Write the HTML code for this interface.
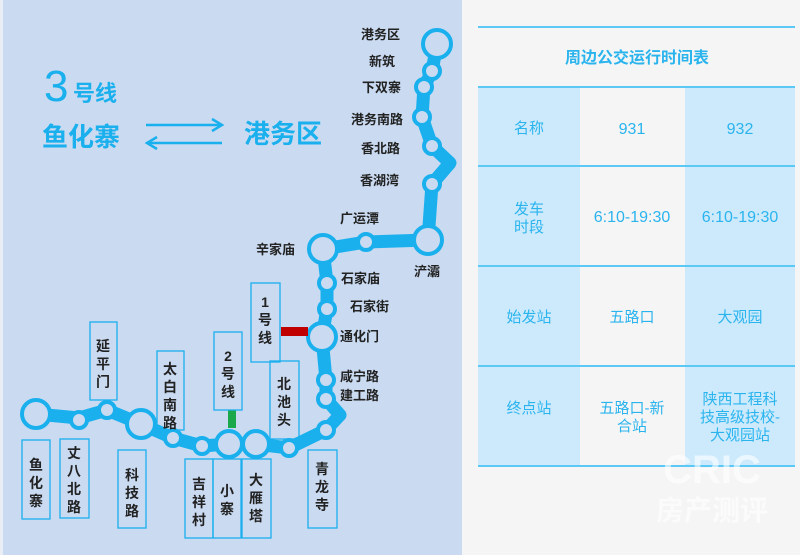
<!DOCTYPE html>
<html><head><meta charset="utf-8"><style>
body{margin:0;width:800px;height:555px;background:#f5f5f5;overflow:hidden;font-family:"Liberation Sans","Noto Sans CJK SC",sans-serif}
.l{position:absolute;left:0;top:0}
</style></head><body>
<svg class="l" width="800" height="555" xmlns="http://www.w3.org/2000/svg" font-family="Liberation Sans, Noto Sans CJK SC, sans-serif">
<rect x="3" y="0" width="459" height="555" fill="#c9daf1"/>
<rect x="0" y="0" width="3" height="555" fill="#e9eef5"/>
<text x="44" y="101" font-size="44" fill="#1ab0ee">3</text>
<text x="73" y="101" font-size="22" font-weight="bold" fill="#1ab0ee">号线</text>
<text x="42" y="146" font-size="26" font-weight="bold" fill="#1ab0ee">鱼化寨</text>
<text x="244" y="143" font-size="26" font-weight="bold" fill="#1ab0ee">港务区</text>
<g stroke="#1ab0ee" stroke-width="2.5" fill="none">
<line x1="146" y1="125" x2="221" y2="125"/><polyline points="212,119 222,125 212,131"/>
<line x1="147" y1="143" x2="222" y2="143"/><polyline points="157,137 147,143 157,149"/>
</g>
<polyline fill="none" stroke="#1ab0ee" stroke-width="13" stroke-linejoin="round" stroke-linecap="round"
points="36,414 79,418 107,410 141,424 173,438 202,446 229,444 256,444 289,448 326,430 340,415 326,399 326,380 322,337 327,309 327,283 323,249 366,242 428,240 432,184 450,163 432,146 422,117 424,87 432,71 437,44"/>
<g fill="#c9daf1" stroke="#1ab0ee" stroke-width="4">
<circle cx="36" cy="414" r="14"/><circle cx="79" cy="420" r="8"/><circle cx="107" cy="410" r="8"/>
<circle cx="141" cy="424" r="14"/><circle cx="173" cy="438" r="8"/><circle cx="202" cy="446" r="8"/>
<circle cx="229" cy="444" r="13"/><circle cx="256" cy="444" r="13"/><circle cx="289" cy="448" r="8"/>
<circle cx="326" cy="430" r="8"/><circle cx="326" cy="399" r="8"/><circle cx="326" cy="380" r="8"/>
<circle cx="322" cy="337" r="14"/><circle cx="327" cy="309" r="8"/><circle cx="327" cy="283" r="8"/>
<circle cx="323" cy="249" r="14"/><circle cx="366" cy="242" r="8"/><circle cx="428" cy="240" r="14"/>
<circle cx="432" cy="184" r="8"/><circle cx="432" cy="146" r="8"/><circle cx="422" cy="117" r="8"/>
<circle cx="424" cy="87" r="8"/><circle cx="432" cy="71" r="8"/><circle cx="437" cy="44" r="14"/>
</g>
<rect x="228" y="410" width="8" height="18" fill="#1aa84a"/>
<rect x="281" y="327" width="27" height="9" fill="#c00000"/>
<g font-size="13" font-weight="bold" fill="#222">
<text x="361" y="39">港务区</text><text x="369" y="66">新筑</text><text x="362" y="92">下双寨</text>
<text x="351" y="124">港务南路</text><text x="361" y="153">香北路</text><text x="360" y="185">香湖湾</text>
<text x="340" y="223">广运潭</text><text x="256" y="254">辛家庙</text><text x="414" y="276">浐灞</text>
<text x="341" y="283">石家庙</text><text x="350" y="311">石家街</text><text x="340" y="341">通化门</text>
<text x="340" y="381">咸宁路</text><text x="340" y="400">建工路</text>
</g>
<g fill="none" stroke="#1ab0ee" stroke-width="1.3">
<rect x="90" y="322" width="27" height="78"/><rect x="157" y="351" width="27" height="79"/>
<rect x="214" y="332" width="28" height="78"/><rect x="251" y="283" width="29" height="79"/>
<rect x="270" y="361" width="29" height="78"/><rect x="22" y="440" width="28" height="79"/>
<rect x="60" y="439" width="29" height="79"/><rect x="118" y="450" width="28" height="78"/>
<rect x="185" y="459" width="28" height="79"/><rect x="213" y="459" width="28" height="79"/>
<rect x="242" y="459" width="29" height="79"/><rect x="308" y="450" width="29" height="78"/>
</g>
<g font-size="14" font-weight="bold" fill="#222" text-anchor="middle">
<text x="103" y="351">延</text><text x="103" y="369">平</text><text x="103" y="387">门</text>
<text x="170" y="374">太</text><text x="170" y="392">白</text><text x="170" y="410">南</text><text x="170" y="428">路</text>
<text x="228" y="361">2</text><text x="228" y="379">号</text><text x="228" y="397">线</text>
<text x="265" y="307">1</text><text x="265" y="325">号</text><text x="265" y="343">线</text>
<text x="284" y="389">北</text><text x="284" y="407">池</text><text x="284" y="425">头</text>
<text x="36" y="470">鱼</text><text x="36" y="488">化</text><text x="36" y="506">寨</text>
<text x="74" y="458">丈</text><text x="74" y="476">八</text><text x="74" y="494">北</text><text x="74" y="512">路</text>
<text x="132" y="480">科</text><text x="132" y="498">技</text><text x="132" y="516">路</text>
<text x="199" y="489">吉</text><text x="199" y="507">祥</text><text x="199" y="525">村</text>
<text x="227" y="496">小</text><text x="227" y="514">寨</text>
<text x="256" y="485">大</text><text x="256" y="503">雁</text><text x="256" y="521">塔</text>
<text x="322" y="474">青</text><text x="322" y="492">龙</text><text x="322" y="510">寺</text>
</g>
<rect x="478" y="87" width="102" height="379" fill="#cdeafc"/>
<rect x="685" y="87" width="110" height="379" fill="#cdeafc"/>
<g fill="#5bc8f5">
<rect x="478" y="26" width="317" height="2"/><rect x="478" y="86" width="317" height="2"/>
<rect x="478" y="165" width="317" height="2"/><rect x="478" y="265" width="317" height="2"/>
<rect x="478" y="365" width="317" height="2"/><rect x="478" y="465" width="317" height="2"/>
</g>
<g font-size="15" fill="#2ab4ee" text-anchor="middle">
<text x="637" y="63" font-size="16" font-weight="bold">周边公交运行时间表</text>
<text x="529" y="133">名称</text><text x="632" y="134" font-size="16">931</text><text x="740" y="134" font-size="16">932</text>
<text x="529" y="214">发车</text><text x="529" y="232">时段</text>
<text x="632" y="222" font-size="16">6:10-19:30</text><text x="740" y="222" font-size="16">6:10-19:30</text>
<text x="529" y="322">始发站</text><text x="632" y="322">五路口</text><text x="740" y="322">大观园</text>
<text x="529" y="413">终点站</text><text x="632" y="413">五路口-新</text><text x="632" y="431">合站</text>
<text x="740" y="404">陕西工程科</text><text x="740" y="422">技高级技校-</text><text x="740" y="440">大观园站</text>
</g>
<g fill="#ffffff" fill-opacity="0.6" font-weight="bold" text-anchor="middle">
<text x="712" y="483" font-size="40">CRIC</text>
<text x="712" y="520" font-size="28">房产测评</text>
</g>
</svg>
</body></html>
